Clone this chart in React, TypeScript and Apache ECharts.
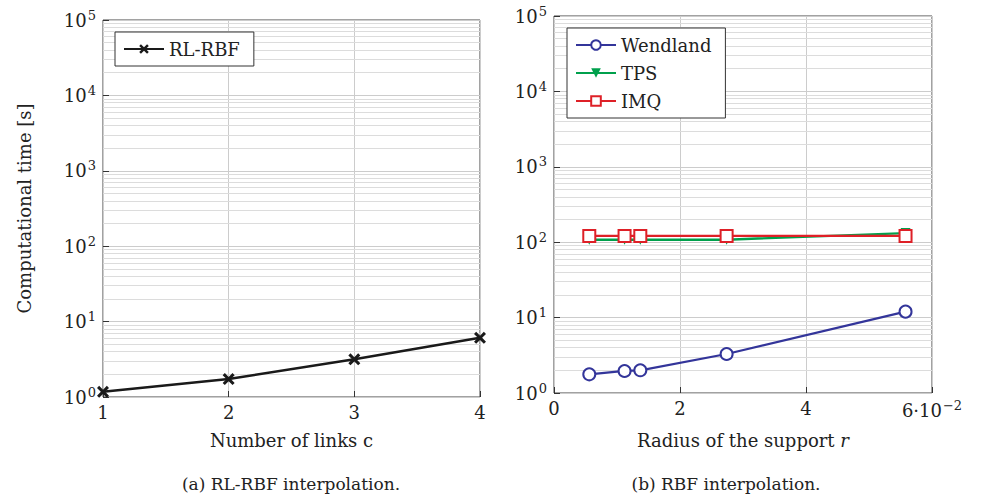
import React, { useEffect, useRef } from "react";
import * as echarts from "echarts";

const linksC = [1, 2, 3, 4];
const rlRbf = [1.17, 1.73, 3.16, 6.1];

const radiusR = [0.0056, 0.0112, 0.0137, 0.0274, 0.0558];
const wendland = [1.77, 1.96, 2.0, 3.29, 12.0];
const tps = [108, 108, 108, 108, 132];
const imq = [121, 121, 121, 121, 121];

const yDecades = [0, 1, 2, 3, 4];
const minorMultipliers = [2, 3, 4, 5, 6, 7, 8, 9];

const FONT = "DejaVu Serif";
const FS = 18;
const GRID = "#cccccc";
const MINOR = "#dcdcdc";

const minorLines = yDecades.flatMap((d) =>
  minorMultipliers.map((k) => ({ yAxis: k * Math.pow(10, d) }))
);

const crossPath =
  "path://M0,1.8L1.8,0L5,3.2L8.2,0L10,1.8L6.8,5L10,8.2L8.2,10L5,6.8L1.8,10L0,8.2L3.2,5Z";

export default function App() {
  const ref = useRef<HTMLDivElement>(null);
  useEffect(() => {
    if (!ref.current) return;
    const chart = echarts.init(ref.current, null, { renderer: "svg" });
    const yLabel = {
      fontFamily: FONT,
      fontSize: FS,
      color: "#222",
      margin: 7,
      formatter: (v: number) => `{a|10}{b|${Math.round(Math.log10(v))}}`,
      rich: {
        a: { fontFamily: FONT, fontSize: FS, color: "#222" },
        b: { fontFamily: FONT, fontSize: 13, color: "#222", verticalAlign: "top", padding: [0, 0, 10, 1] },
      },
    };
    const yAxisBase = (gi: number) => ({
      type: "log" as const,
      gridIndex: gi,
      min: 1,
      max: 100000,
      logBase: 10,
      axisLine: { show: false },
      axisTick: { show: true, inside: true, length: 6, lineStyle: { color: "#333" } },
      splitLine: { show: true, lineStyle: { color: GRID, width: 1 } },
      axisLabel: yLabel,
    });
    const markMinor = {
      silent: true,
      symbol: "none",
      z: 1,
      label: { show: false },
      lineStyle: { color: MINOR, width: 1, type: "solid" as const },
      data: minorLines,
      animation: false,
    };
    chart.setOption({
      animation: false,
      textStyle: { fontFamily: FONT },
      grid: [
        { left: 103, top: 20, width: 377, height: 377, show: true, borderColor: "#444", borderWidth: 1, backgroundColor: "transparent" },
        { left: 554, top: 16, width: 378, height: 377, show: true, borderColor: "#444", borderWidth: 1, backgroundColor: "transparent" },
      ],
      xAxis: [
        {
          type: "value",
          gridIndex: 0,
          min: 1,
          max: 4,
          interval: 1,
          axisLine: { show: false },
          axisTick: { show: true, inside: true, length: 6, lineStyle: { color: "#333" } },
          splitLine: { show: true, lineStyle: { color: GRID } },
          axisLabel: { fontFamily: FONT, fontSize: FS, color: "#222", margin: 6 },
          name: "Number of links c",
          nameLocation: "middle",
          nameGap: 34,
          nameTextStyle: { fontFamily: FONT, fontSize: FS, color: "#222", verticalAlign: "top" },
        },
        {
          type: "value",
          gridIndex: 1,
          min: 0,
          max: 0.06,
          interval: 0.02,
          axisLine: { show: false },
          axisTick: { show: true, inside: true, length: 6, lineStyle: { color: "#333" } },
          splitLine: { show: true, lineStyle: { color: GRID } },
          axisLabel: {
            fontFamily: FONT,
            fontSize: FS,
            color: "#222",
            margin: 6,
            formatter: (v: number) => {
              const n = Math.round(v * 100);
              return n === 6 ? `{a|6·10}{b|−2}` : `{a|${n}}`;
            },
            rich: {
              a: { fontFamily: FONT, fontSize: FS, color: "#222" },
              b: { fontFamily: FONT, fontSize: 13, color: "#222", verticalAlign: "top", padding: [0, 0, 10, 1] },
            },
          },
          name: "Radius of the support {i|r}",
          nameLocation: "middle",
          nameGap: 38,
          nameTextStyle: {
            fontFamily: FONT,
            fontSize: FS,
            color: "#222",
            verticalAlign: "top",
            rich: { i: { fontFamily: FONT, fontSize: FS, fontStyle: "italic", color: "#222" } },
          },
        },
      ],
      yAxis: [
        {
          ...yAxisBase(0),
          name: "Computational time [s]",
          nameLocation: "middle",
          nameGap: 70,
          nameTextStyle: { fontFamily: FONT, fontSize: FS, color: "#222" },
        },
        { ...yAxisBase(1) },
      ],
      legend: [
        {
          data: ["RL-RBF"],
          left: 115,
          top: 32,
          z: 20,
          orient: "vertical",
          backgroundColor: "#fff",
          borderColor: "#333",
          borderWidth: 1,
          borderRadius: 0,
          padding: [8, 14, 8, 8],
          itemWidth: 40,
          itemHeight: 12,
          textStyle: { fontFamily: FONT, fontSize: FS, color: "#222" },
        },
        {
          data: ["Wendland", "TPS", "IMQ"],
          left: 567,
          top: 28,
          z: 20,
          orient: "vertical",
          backgroundColor: "#fff",
          borderColor: "#333",
          borderWidth: 1,
          borderRadius: 0,
          padding: [8, 14, 8, 8],
          itemGap: 10,
          itemWidth: 40,
          itemHeight: 12,
          textStyle: { fontFamily: FONT, fontSize: FS, color: "#222" },
        },
      ],
      series: [
        {
          name: "minor-a",
          type: "line",
          xAxisIndex: 0,
          yAxisIndex: 0,
          data: [],
          z: 1,
          markLine: markMinor,
        },
        {
          name: "minor-b",
          type: "line",
          xAxisIndex: 1,
          yAxisIndex: 1,
          data: [],
          z: 1,
          markLine: markMinor,
        },
        {
          name: "RL-RBF",
          type: "line",
          xAxisIndex: 0,
          yAxisIndex: 0,
          data: linksC.map((x, i) => [x, rlRbf[i]]),
          symbol: crossPath,
          symbolSize: 12,
          showAllSymbol: true,
          lineStyle: { color: "#1a1a1a", width: 2.5 },
          itemStyle: { color: "#1a1a1a" },
          z: 5,
        },
        {
          name: "Wendland",
          type: "line",
          xAxisIndex: 1,
          yAxisIndex: 1,
          data: radiusR.map((x, i) => [x, wendland[i]]),
          symbol: "emptyCircle",
          symbolSize: 12,
          lineStyle: { color: "#33359a", width: 2.2 },
          itemStyle: { color: "#33359a", borderWidth: 2.2 },
          z: 5,
        },
        {
          name: "TPS",
          type: "line",
          xAxisIndex: 1,
          yAxisIndex: 1,
          data: radiusR.map((x, i) => [x, tps[i]]),
          symbol: "triangle",
          symbolRotate: 180,
          symbolSize: 10,
          lineStyle: { color: "#00a04c", width: 2.4 },
          itemStyle: { color: "#00a04c" },
          z: 5,
        },
        {
          name: "IMQ",
          type: "line",
          xAxisIndex: 1,
          yAxisIndex: 1,
          data: radiusR.map((x, i) => [x, imq[i]]),
          symbol: "emptyRect",
          symbolSize: 12,
          lineStyle: { color: "#de2027", width: 2.2 },
          itemStyle: { color: "#de2027", borderWidth: 2.2 },
          z: 6,
        },
      ],
      graphic: [
        {
          type: "text",
          x: 291,
          y: 484,
          style: { text: "(a) RL-RBF interpolation.", fontFamily: FONT, fontSize: 17, fill: "#222", align: "center", verticalAlign: "middle" },
        },
        {
          type: "text",
          x: 726,
          y: 484,
          style: { text: "(b) RBF interpolation.", fontFamily: FONT, fontSize: 17, fill: "#222", align: "center", verticalAlign: "middle" },
        },
      ],
    });
    return () => chart.dispose();
  }, []);
  return (
    <div
      ref={ref}
      style={{ position: "absolute", left: 0, top: 0, width: 991, height: 498 }}
    />
  );
}
